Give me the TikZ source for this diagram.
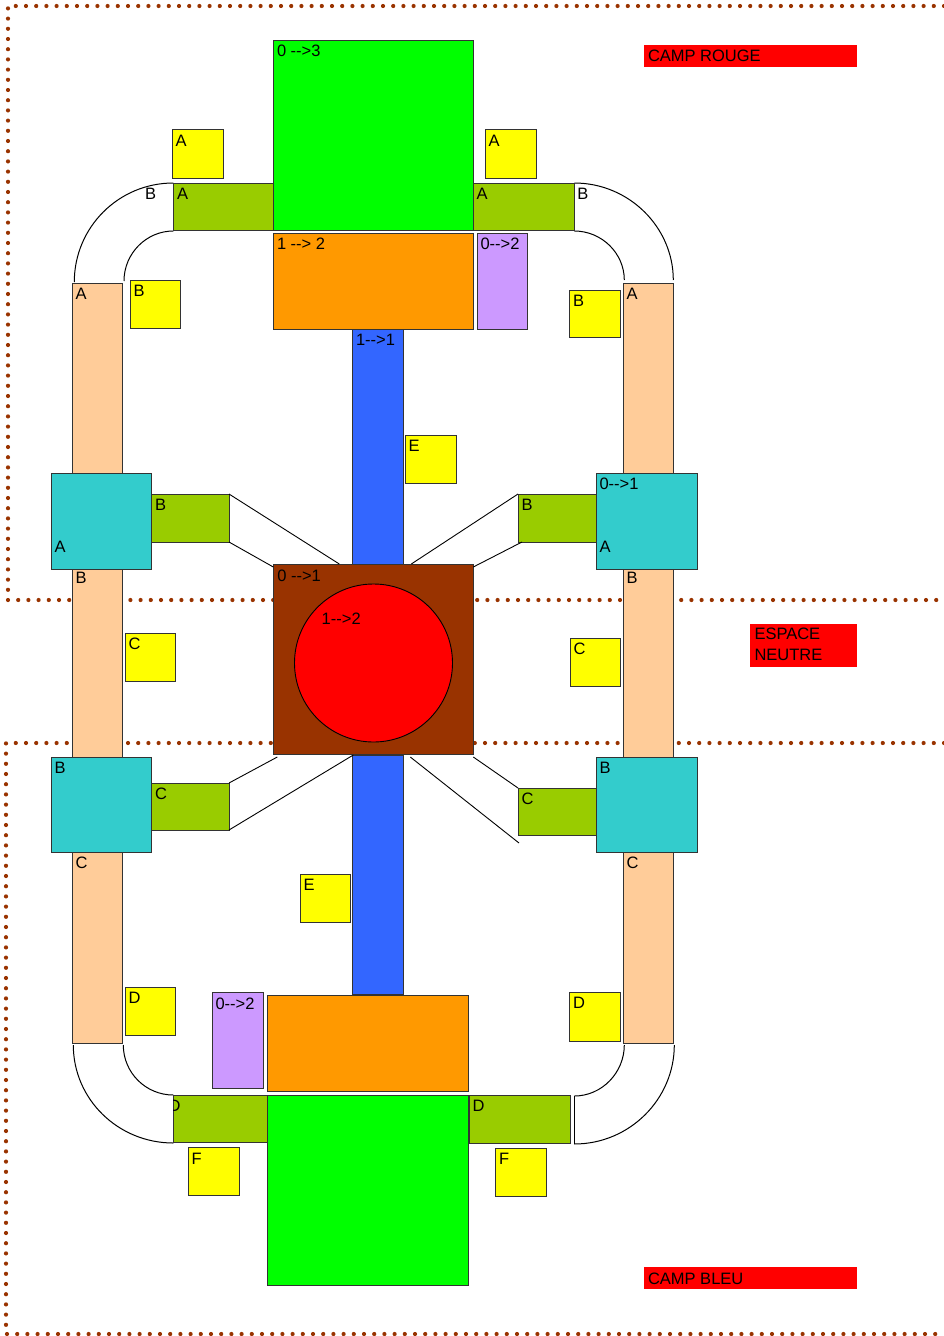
\documentclass[tikz,border=0pt]{standalone}
\usepackage{fontspec}
\setmainfont{Liberation Sans}
\usetikzlibrary{calc}
\definecolor{cgreen}{HTML}{00FF00}
\definecolor{corange}{HTML}{FF9900}
\definecolor{cpurple}{HTML}{CC99FF}
\definecolor{cblue}{HTML}{3366FF}
\definecolor{cyellow}{HTML}{FFFF00}
\definecolor{cbrown}{HTML}{993300}
\definecolor{cred}{HTML}{FF0000}
\definecolor{colive}{HTML}{99CC00}
\definecolor{cbeige}{HTML}{FFCC99}
\definecolor{ccyan}{HTML}{33CCCC}
\definecolor{cdot}{HTML}{993300}
\tikzset{
  rbox/.style={draw=black!80, line width=0.9pt, inner sep=0pt, outer sep=0pt, rectangle},
  lab/.style={inner sep=0pt, outer sep=0pt, font=\fontsize{16.5}{20.3}\selectfont, text=black},
  dots/.style={draw=cdot, line width=4.2pt, line cap=round, dash pattern=on 0pt off 10.2pt},
  conn/.style={draw=black, line width=0.9pt},
  arcline/.style={draw=black, line width=1pt},
  redtag/.style={fill=cred, draw=none, inner sep=0pt, outer sep=0pt, rectangle},
}
\newcommand{\hy}{\mbox{-}}
\newcommand{\arw}{\hy\hy\mbox{>}}
\newcommand{\rbox}[6]{%
  \pgfmathsetmacro{\rbw}{#5-#3}\pgfmathsetmacro{\rbh}{#6-#4}%
  \node[rbox, fill=#2, minimum width=\rbw pt, minimum height=\rbh pt] (#1) at ({(#3+#5)/2},{(#4+#6)/2}) {};}
\newcommand{\redbox}[5]{%
  \pgfmathsetmacro{\rbw}{#4-#2}\pgfmathsetmacro{\rbh}{#5-#3}%
  \node[redtag, minimum width=\rbw pt, minimum height=\rbh pt] (#1) at ({(#2+#4)/2},{(#3+#5)/2}) {};}
\newcommand{\tx}[4]{\node[lab, anchor=north west] (#1) at (#2,#3) {#4};}
\begin{document}
\begin{tikzpicture}[x=1pt, y=-1pt]
\useasboundingbox (0,0) rectangle (944,1336);
% zone borders
\draw[dots] (944,6) -- (8,6) -- (8,600) -- (944,600);
\draw[dots] (944,743) -- (6,743) -- (6,1334) -- (944,1334);
% red tags
\redbox{tagRouge}{644}{45}{857}{66.7}
\node[lab, anchor=base west] (tagRouge-t) at (648,61.5) {CAMP ROUGE};
\redbox{tagNeutre}{750.4}{624}{856.6}{666.7}
\node[lab, anchor=north west, align=left] (tagNeutre-t) at (754.5,628.3) {ESPACE\\NEUTRE};
\redbox{tagBleu}{644}{1267.3}{857}{1288.7}
\node[lab, anchor=base west] (tagBleu-t) at (648,1284) {CAMP BLEU};
% curved bands
\draw[arcline] (173.3,183) .. controls (118.6,183) and (74.3,227.3) .. (74.3,282);
\draw[arcline] (124,281) .. controls (124,253.4) and (146.4,231) .. (173.3,231);
\draw[arcline] (574.3,183) .. controls (629,183) and (673.3,227.3) .. (673.3,280);
\draw[arcline] (574.3,231) .. controls (601.9,231) and (624.3,253.4) .. (624.3,280);
\draw[arcline] (73.3,1045) .. controls (73.3,1099.2) and (118.1,1143) .. (173.3,1143);
\draw[arcline] (123.3,1045) .. controls (123.3,1072.6) and (145.7,1095) .. (173.3,1095);
\draw[arcline] (674.3,1045) .. controls (674.3,1099.2) and (629.5,1144) .. (574.3,1144);
\draw[arcline] (624.3,1045) .. controls (624.3,1072.6) and (601.9,1096) .. (574.3,1096);
\draw[arcline] (574.3,1096) -- (574.3,1144);
% beige bars
\rbox{beigeL}{cbeige}{72}{283}{122}{1043}
\rbox{beigeR}{cbeige}{623}{283}{673.3}{1043}
% cyan junctions
\rbox{cyanLA}{ccyan}{51}{473}{151}{569}
\rbox{cyanLB}{ccyan}{51}{757}{151}{852}
\rbox{cyanRA}{ccyan}{596.4}{473}{697.4}{569}
\rbox{cyanRB}{ccyan}{596.4}{757}{697.4}{852}
% olive
\rbox{olTL}{colive}{173.3}{183}{273.3}{230}
\rbox{olTR}{colive}{473.3}{183}{574.3}{230}
\rbox{olML}{colive}{151}{494}{229}{542}
\rbox{olMR}{colive}{518}{494}{596.4}{542}
\rbox{olCL}{colive}{151}{783}{229}{830}
\rbox{olCR}{colive}{518}{788}{596.4}{835}
\rbox{olDL}{colive}{173.3}{1095}{267.7}{1142.7}
\rbox{olDR}{colive}{469.3}{1095}{570}{1143}
% main column
\rbox{greenT}{cgreen}{273.3}{40.3}{473.3}{230}
\rbox{orangeT}{corange}{273.3}{233.3}{473.3}{329.3}
\rbox{purpleT}{cpurple}{477.3}{233.3}{527.7}{329.3}
\rbox{blueT}{cblue}{352.7}{329.3}{403.3}{565}
\rbox{blueB}{cblue}{352.7}{755}{403.3}{994.3}
\rbox{orangeB}{corange}{267.7}{995}{468.3}{1091}
\rbox{purpleB}{cpurple}{212.3}{992.7}{263}{1088.7}
\rbox{greenB}{cgreen}{267.7}{1095}{468.3}{1285}
\rbox{brown}{cbrown}{273.3}{564}{473.3}{754}
\node[draw=black, line width=0.9pt, fill=cred, circle, inner sep=0pt, minimum size=158pt] (disc) at (373.5,663) {};
% yellow markers
\rbox{yAL}{cyellow}{172.3}{129.3}{223}{178}
\rbox{yAR}{cyellow}{485}{129.3}{536}{178}
\rbox{yBL}{cyellow}{130}{280}{180.7}{328}
\rbox{yBR}{cyellow}{569.3}{290}{620.7}{337.7}
\rbox{yE1}{cyellow}{405}{435}{456}{483}
\rbox{yCL}{cyellow}{125}{633}{175.7}{681}
\rbox{yCR}{cyellow}{570}{638}{620.7}{686}
\rbox{yE2}{cyellow}{300}{874}{350.7}{922}
\rbox{yDL}{cyellow}{125}{987.3}{175.7}{1035.7}
\rbox{yDR}{cyellow}{569.7}{992.3}{620.3}{1041}
\rbox{yFL}{cyellow}{188.3}{1147.7}{239}{1195}
\rbox{yFR}{cyellow}{495.7}{1148}{546.3}{1196}
% connectors
\draw[conn] (olML.north east) -- ($(brown.north west)+(66,0)$);
\draw[conn] (olML.south east) -- ($(brown.north west)+(0,3)$);
\draw[conn] (olMR.north west) -- ($(brown.north west)+(138,0)$);
\draw[conn] ($(olMR.south west)+(4,0)$) -- ($(brown.north east)+(0,3)$);
\draw[conn] ($(brown.south west)+(4,3)$) -- (olCL.north east);
\draw[conn] ($(brown.south west)+(80,1)$) -- (olCL.south east);
\draw[conn] ($(brown.south east)+(0,3)$) -- (olCR.north west);
\coordinate (freeR) at (519,843);
\draw[conn] ($(brown.south west)+(137,3)$) -- (freeR);
% labels
\tx{greenT-t}{277}{45}{0 \arw3}
\tx{orangeT-t}{277}{238}{1 \arw{} 2}
\tx{purpleT-t}{480.5}{238}{0\arw2}
\tx{blueT-t}{356}{334}{1\arw1}
\tx{yAL-t}{175.7}{135}{A}
\tx{yAR-t}{488.5}{135}{A}
\tx{olTL-t}{177}{188}{A}
\tx{olTR-t}{476.5}{188}{A}
\tx{arcTL-t}{145}{188}{B}
\tx{arcTR-t}{577.3}{188}{B}
\tx{beigeL-a}{75.5}{288.3}{A}
\tx{beigeR-a}{626.5}{288.3}{A}
\tx{yBL-t}{133.5}{285}{B}
\tx{yBR-t}{573}{295}{B}
\tx{yE1-t}{408.5}{440}{E}
\tx{cyanRA-t}{599.5}{478}{0\arw1}
\tx{olML-t}{155}{499}{B}
\tx{olMR-t}{521.5}{499}{B}
\tx{cyanLA-t}{54.5}{541.5}{A}
\tx{cyanRA-b}{599.5}{541.5}{A}
\tx{brown-t}{277.3}{569.5}{0 \arw1}
\tx{beigeL-b}{75.5}{572.5}{B}
\tx{beigeR-b}{626.5}{572.5}{B}
\tx{disc-t}{321.7}{613.3}{1\arw2}
\tx{yCL-t}{128.5}{638}{C}
\tx{yCR-t}{573.5}{643}{C}
\tx{cyanLB-t}{54.5}{762}{B}
\tx{cyanRB-t}{599.5}{762}{B}
\tx{olCL-t}{155}{788}{C}
\tx{olCR-t}{521.5}{793}{C}
\tx{beigeL-c}{75.5}{857}{C}
\tx{beigeR-c}{626.5}{857}{C}
\tx{yE2-t}{303.5}{879}{E}
\tx{yDL-t}{128.5}{992.5}{D}
\tx{yDR-t}{573}{997.5}{D}
\tx{purpleB-t}{215.5}{998}{0\arw2}
\begin{scope}
\clip (olDL.north west) rectangle (olDL.south east);
\tx{olDL-t}{168.5}{1100}{D}
\end{scope}
\tx{olDR-t}{472.5}{1100}{D}
\tx{yFL-t}{191.5}{1153}{F}
\tx{yFR-t}{499}{1153}{F}
\end{tikzpicture}
\end{document}
